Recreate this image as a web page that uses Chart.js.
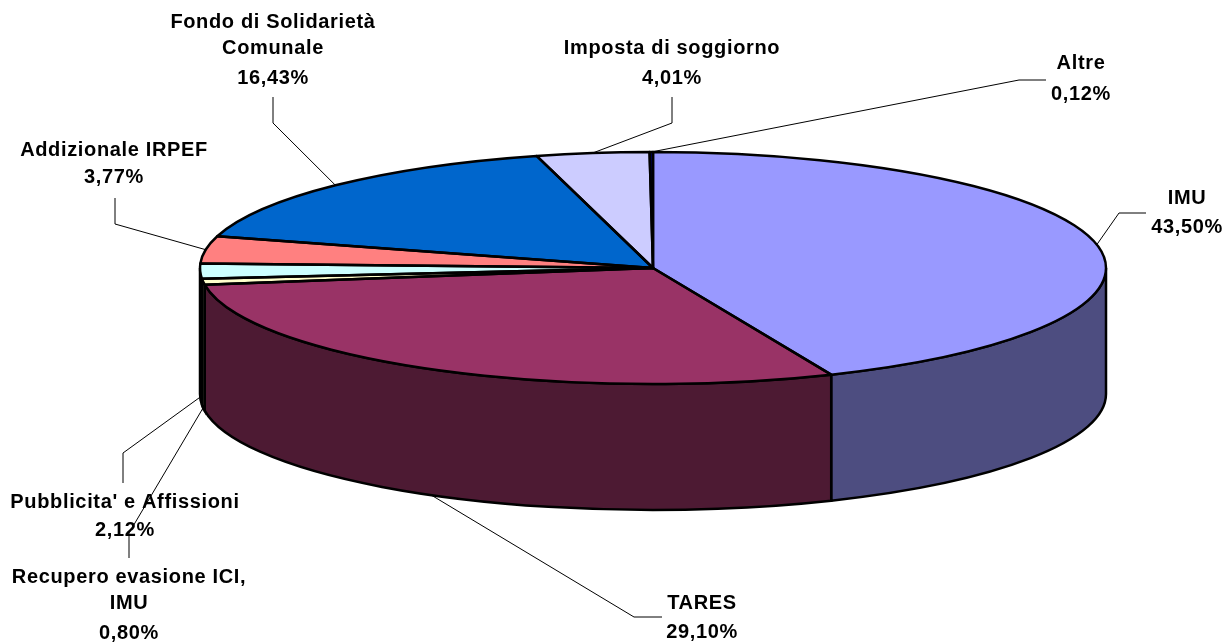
<!DOCTYPE html>
<html>
<head>
<meta charset="utf-8">
<title>Entrate tributarie</title>
<script src="https://cdn.jsdelivr.net/npm/chart.js@4/dist/chart.umd.min.js"></script>
<style>
  html, body { margin: 0; padding: 0; background: #fff; }
  canvas { display: block; }
</style>
</head>
<body>
<canvas id="pie3d" width="1223" height="643"></canvas>
<script>
// Slices, clockwise from twelve o'clock
const categories = ['IMU', 'TARES', 'Recupero evasione ICI, IMU', "Pubblicita' e Affissioni",
  'Addizionale IRPEF', 'Fondo di Solidarietà Comunale', 'Imposta di soggiorno', 'Altre'];
const values = [43.50, 29.10, 0.80, 2.12, 3.77, 16.43, 4.01, 0.12];
const nameLines = [['IMU'], ['TARES'], ['Recupero evasione ICI,', 'IMU'], ["Pubblicita' e Affissioni"],
  ['Addizionale IRPEF'], ['Fondo di Solidarietà', 'Comunale'], ['Imposta di soggiorno'], ['Altre']];

const topColors  = ['#9999FF', '#993366', '#FFFFCC', '#CCFFFF', '#FF8080', '#0066CC', '#CCCCFF', '#000080'];
const wallColors = ['#4D4D80', '#4D1A33', '#808066', '#668080', '#804040', '#003366', '#666680', '#000040'];

// Ellipse of the top face and height of the wall
const CX = 653, CY = 268, RX = 453, RY = 116, DEPTH = 126;

// Label placement: text centre x, line centres y, leader bend points (label end first)
const labelX = [1187, 702, 129, 125, 114, 273, 672, 1081];
const labelY = [[198, 227], [603, 632], [577, 603, 633], [502, 530], [150, 177], [22, 48, 78], [48, 78], [63, 94]];
const leaderBends = [
  [[1146, 213], [1119, 213]],
  [[662, 617], [634, 617]],
  [[129, 558], [129, 533]],
  [[123, 483], [123, 453]],
  [[115, 198], [115, 224]],
  [[273, 97], [273, 123]],
  [[672, 97], [672, 123]],
  [[1046, 80], [1019, 80]],
];

const pie3dPlugin = {
  id: 'pie3d',

  beforeDatasetsDraw(chart) {
    const ctx = chart.ctx;
    const arcs = chart.getDatasetMeta(0).data;

    // Outer wall: only the part of each slice on the front half shows
    arcs.forEach((arc, i) => {
      const lo = Math.max(arc.startAngle, 0);
      const hi = Math.min(arc.endAngle, Math.PI);
      if (hi <= lo) return;
      ctx.beginPath();
      ctx.ellipse(CX, CY, RX, RY, 0, lo, hi);
      ctx.ellipse(CX, CY + DEPTH, RX, RY, 0, hi, lo, true);
      ctx.closePath();
      ctx.fillStyle = wallColors[i];
      ctx.fill();
      ctx.strokeStyle = '#000';
      ctx.lineWidth = 2.5;
      ctx.stroke();
    });

    // Squash the library's round pie onto the top face
    const first = arcs[0];
    const r = first.outerRadius;
    ctx.save();
    ctx.translate(CX, CY);
    ctx.scale(RX / r, RY / r);
    ctx.translate(-first.x, -first.y);
  },

  afterDatasetsDraw(chart) {
    const ctx = chart.ctx;
    ctx.restore();
    const arcs = chart.getDatasetMeta(0).data;

    // Slice outlines, stroked out here so the pen is not squashed as well
    arcs.forEach(arc => {
      ctx.beginPath();
      ctx.moveTo(CX, CY);
      ctx.ellipse(CX, CY, RX, RY, 0, arc.startAngle, arc.endAngle);
      ctx.closePath();
      ctx.strokeStyle = '#000';
      ctx.lineWidth = 2.5;
      ctx.lineJoin = 'round';
      ctx.stroke();
    });

    // Leader lines start from the middle of each slice's rim
    arcs.forEach((arc, i) => {
      const mid = (arc.startAngle + arc.endAngle) / 2;
      const onWall = Math.sin(mid) > 0 && i > 0;
      const ax = CX + RX * Math.cos(mid);
      const ay = CY + RY * Math.sin(mid) + (onWall ? DEPTH : 0);
      const bends = leaderBends[i];
      ctx.beginPath();
      ctx.moveTo(bends[0][0], bends[0][1]);
      ctx.lineTo(bends[1][0], bends[1][1]);
      ctx.lineTo(ax, ay);
      ctx.strokeStyle = '#000';
      ctx.lineWidth = 1;
      ctx.stroke();
    });

    // Labels
    ctx.font = 'bold 20px "Liberation Sans", Arial, sans-serif';
    ctx.letterSpacing = '0.65px';
    ctx.fillStyle = '#000';
    ctx.textAlign = 'center';
    ctx.textBaseline = 'middle';
    values.forEach((v, i) => {
      const lines = nameLines[i].concat(v.toFixed(2).replace('.', ',') + '%');
      lines.forEach((line, j) => ctx.fillText(line, labelX[i], labelY[i][j]));
    });
  },
};

new Chart(document.getElementById('pie3d'), {
  type: 'pie',
  data: {
    labels: categories,
    datasets: [{
      data: values,
      backgroundColor: topColors,
      borderWidth: 0,
      clip: false,
    }],
  },
  options: {
    responsive: false,
    animation: false,
    plugins: {
      legend: { display: false },
      tooltip: { enabled: false },
    },
  },
  plugins: [pie3dPlugin],
});
</script>
</body>
</html>
